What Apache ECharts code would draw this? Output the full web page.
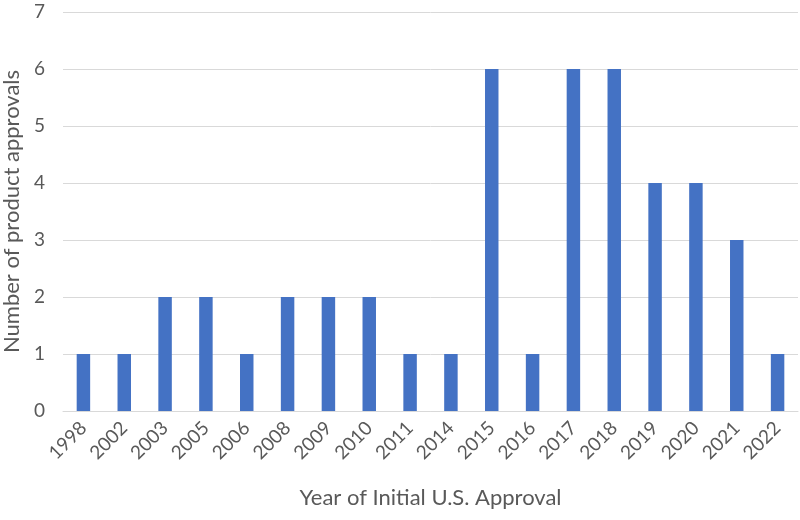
<!DOCTYPE html>
<html><head><meta charset="utf-8">
<script src="https://cdn.jsdelivr.net/npm/echarts@6/dist/echarts.min.js"></script>
<style>html,body{margin:0;padding:0;background:#fff}#c{width:800px;height:520px}</style>
</head><body><div id="c"></div>
<script>
const years = ['1998','2002','2003','2005','2006','2008','2009','2010','2011','2014','2015','2016','2017','2018','2019','2020','2021','2022'];
const approvals = [1,1,2,2,1,2,2,2,1,1,6,1,6,6,4,4,3,1];
const yTicks = {min:0, max:7, interval:1};
const font = 'Lato';
const chart = echarts.init(document.getElementById('c'));
chart.setOption({
  animation:false,
  grid:{left:63, right:2, top:12, bottom:109, containLabel:false, outerBoundsMode:'none'},
  xAxis:{type:'category', data:years,
    name:'Year of Initial U.S. Approval', nameLocation:'middle', nameGap:76,
    nameTextStyle:{fontFamily:font, fontSize:22, color:'#595959'},
    axisLine:{lineStyle:{color:'#d9d9d9', width:1}},
    axisTick:{show:false},
    axisLabel:{rotate:45, interval:0, fontFamily:font, fontSize:19, color:'#595959', margin:14}},
  yAxis:{type:'value', min:yTicks.min, max:yTicks.max, interval:yTicks.interval,
    name:'Number of product approvals', nameLocation:'middle', nameGap:40,
    nameTextStyle:{fontFamily:font, fontSize:22, color:'#595959'},
    axisLine:{show:false}, axisTick:{show:false},
    axisLabel:{fontFamily:font, fontSize:19, color:'#595959', margin:18},
    splitLine:{lineStyle:{color:'#d9d9d9', width:1}}},
  series:[{type:'bar', data:approvals, barWidth:'33%', itemStyle:{color:'#4472C4'}}]
});
</script></body></html>
